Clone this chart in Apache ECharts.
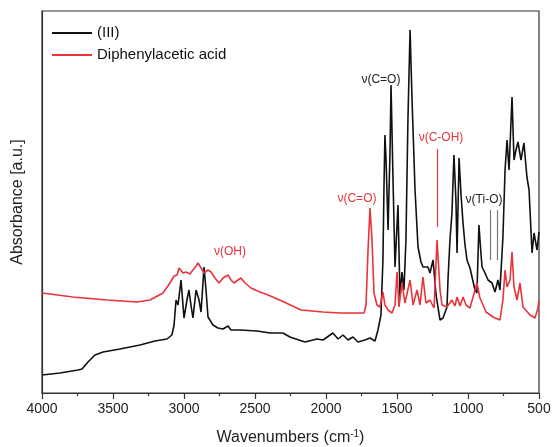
<!DOCTYPE html>
<html>
<head>
<meta charset="utf-8">
<script src="https://cdn.jsdelivr.net/npm/echarts@6/dist/echarts.min.js"></script>
<style>
html,body{margin:0;padding:0;background:#fff;}
#chart{width:552px;height:447px;}
</style>
</head>
<body>
<div id="chart"></div>
<script>
// Wavenumbers (cm-1) and absorbance (a.u.)
const waveIII = [4000,3873,3746,3718,3676,3627,3570,3451,3310,3204,3120,3085,3070,3056,3042,3021,3000,2979,2965,2951,2937,2915,2894,2880,2859,2845,2831,2796,2761,2725,2690,2669,2606,2486,2394,2303,2254,2148,2063,2021,1951,1915,1880,1845,1810,1775,1725,1690,1655,1634,1613,1599,1592,1585,1577,1563,1549,1542,1528,1514,1493,1479,1465,1451,1437,1423,1408,1394,1373,1352,1331,1317,1282,1268,1246,1225,1197,1176,1148,1141,1127,1113,1099,1085,1077,1063,1049,1035,1021,1007,986,972,951,937,923,908,901,880,859,831,810,789,775,754,739,725,711,690,676,662,648,627,606,585,570,549,535,514,500];
const absIII = [18,20,23,24,31,38,41,44,48,52,54,58,68,93,88,113,75,93,103,88,75,103,93,81,126,103,76,68,65,64,67,63,63,62,60,60,56,51,54,53,60,54,58,53,56,51,53,55,52,63,78,133,203,258,233,163,243,308,213,126,188,96,121,103,153,273,363,293,203,146,131,126,126,120,133,98,73,75,86,113,153,180,238,193,140,235,198,170,148,133,125,123,103,100,168,138,126,120,113,110,101,113,103,156,223,253,223,296,233,243,251,233,250,216,203,140,160,143,161];
const waveAcid = [4000,3782,3542,3331,3239,3148,3099,3070,3049,3035,3021,3007,2986,2972,2958,2937,2915,2901,2880,2859,2831,2810,2782,2754,2725,2690,2669,2648,2620,2599,2570,2528,2465,2408,2296,2176,2021,1901,1782,1732,1718,1704,1690,1676,1662,1641,1620,1599,1585,1563,1535,1514,1500,1486,1465,1444,1408,1387,1359,1338,1317,1296,1268,1239,1218,1197,1183,1148,1113,1092,1077,1056,1035,1014,986,937,916,894,873,824,775,754,739,725,704,690,676,655,634,613,563,528,507,500];
const absAcid = [100,96,93,91,93,100,110,117,118,125,123,120,121,123,119,123,127,130,125,120,123,121,115,110,115,118,113,110,113,115,110,105,101,98,91,83,81,80,80,80,88,143,185,153,100,88,86,101,88,83,80,88,121,86,110,90,113,88,103,88,116,90,93,85,153,103,88,86,93,87,96,87,96,88,85,110,95,88,81,76,73,93,123,106,113,141,106,93,110,86,78,75,85,93];
const xTicks = [4000,3500,3000,2500,2000,1500,1000,500];

const font = '"Liberation Sans", Arial, sans-serif';
const RED = '#e8333a';
const BLACK = '#111111';
const pair = (w, a) => w.map((v, i) => [v, a[i]]);

function note(text, w, y, color) {
  return { name: text, coord: [w, y], symbol: 'circle', symbolSize: 1,
    itemStyle: { color: 'rgba(0,0,0,0)' },
    label: { show: true, position: 'inside', formatter: text, color: color, fontSize: 12, fontFamily: font } };
}

const chart = echarts.init(document.getElementById('chart'), null, { renderer: 'canvas' });
chart.setOption({
  animation: false,
  backgroundColor: '#ffffff',
  grid: { left: 42, right: 13, top: 11, bottom: 54, outerBoundsMode: 'none', containLabel: false,
    show: true, borderColor: '#333', borderWidth: 1.2, backgroundColor: 'transparent' },
  legend: {
    orient: 'vertical', left: 52, top: 25, padding: 0, itemWidth: 40, itemHeight: 2, itemGap: 6,
    icon: 'rect',
    textStyle: { fontSize: 15, lineHeight: 16, fontFamily: font, color: '#111' },
    data: [
      { name: '(III)', itemStyle: { color: BLACK } },
      { name: 'Diphenylacetic acid', itemStyle: { color: RED } }
    ]
  },
  xAxis: {
    type: 'value', inverse: true, min: 500, max: 4000, interval: 500,
    axisLine: { show: true, lineStyle: { color: '#333', width: 1.2 } },
    axisTick: { show: true, length: 6, lineStyle: { color: '#333', width: 1.2 } },
    minorTick: { show: true, splitNumber: 2, length: 3, lineStyle: { color: '#333', width: 1.2 } },
    splitLine: { show: false },
    axisLabel: { fontSize: 14, fontFamily: font, color: '#222', margin: 9,
      formatter: v => (xTicks.indexOf(v) >= 0 ? String(v) : '') },
    name: 'Wavenumbers (cm{s|-1})', nameLocation: 'middle', nameGap: 36,
    nameTextStyle: { fontSize: 16, fontFamily: font, color: '#222',
      rich: { s: { fontSize: 10, fontFamily: font, color: '#222', verticalAlign: 'top', padding: [0, 0, 8, 0] } } }
  },
  yAxis: {
    type: 'value', min: 0, max: 382,
    axisLine: { show: true, lineStyle: { color: '#333', width: 1.2 } },
    axisTick: { show: false }, axisLabel: { show: false }, splitLine: { show: false },
    name: 'Absorbance [a.u.]', nameLocation: 'middle', nameGap: 16,
    nameTextStyle: { fontSize: 16, fontFamily: font, color: '#222' }
  },
  series: [
    {
      name: '(III)', type: 'line', data: pair(waveIII, absIII), symbol: 'none',
      lineStyle: { color: BLACK, width: 1.6 }, itemStyle: { color: BLACK },
      markPoint: { silent: true, data: [
        note('ν(C=O)', 1613, 313, '#222'),
        note('ν(Ti-O)', 887, 193, '#222')
      ] },
      markLine: { silent: true, symbol: 'none', label: { show: false },
        lineStyle: { color: '#777', width: 1.2, type: 'solid' },
        data: [
          [{ coord: [845, 183] }, { coord: [845, 133] }],
          [{ coord: [796, 183] }, { coord: [796, 133] }]
        ] }
    },
    {
      name: 'Diphenylacetic acid', type: 'line', data: pair(waveAcid, absAcid), symbol: 'none',
      lineStyle: { color: RED, width: 1.6 }, itemStyle: { color: RED },
      markPoint: { silent: true, data: [
        note('ν(OH)', 2676, 141, RED),
        note('ν(C=O)', 1782, 194, RED),
        note('ν(C-OH)', 1190, 255, RED)
      ] },
      markLine: { silent: true, symbol: 'none', label: { show: false },
        lineStyle: { color: RED, width: 1.2, type: 'solid' },
        data: [
          [{ coord: [1218, 244] }, { coord: [1218, 166] }]
        ] }
    }
  ]
});
</script>
</body>
</html>
